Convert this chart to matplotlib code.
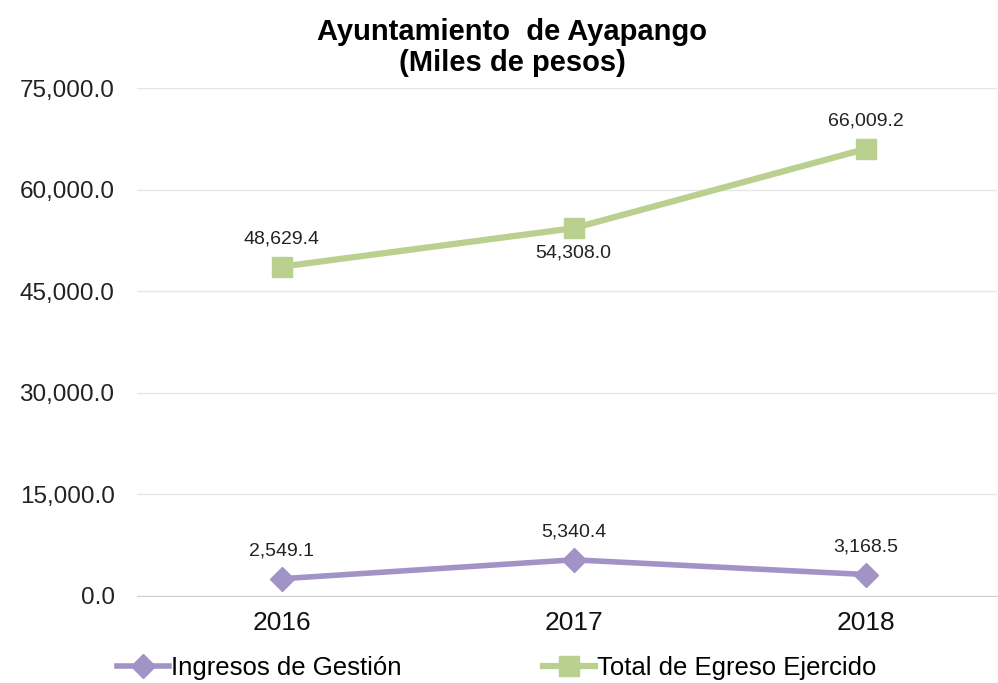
import matplotlib
matplotlib.use("Agg")
import matplotlib.pyplot as plt

years = ["2016", "2017", "2018"]
ingresos = [2549.1, 5340.4, 3168.5]
egreso = [48629.4, 54308.0, 66009.2]
yticks = [0, 15000, 30000, 45000, 60000, 75000]

plt.rcParams['font.family'] = ['Liberation Sans', 'DejaVu Sans']

fig = plt.figure(figsize=(9.98, 6.83), dpi=100)
ax = fig.add_axes([0.137, 0.1274, 0.862, 0.7437])

purple = '#A193C6'
green = '#B9D08F'
x = list(range(len(years)))
l1, = ax.plot(x, ingresos, color=purple, lw=4, marker='D', ms=12, label='Ingresos de Gestión')
l2, = ax.plot(x, egreso, color=green, lw=4.5, marker='s', ms=14, label='Total de Egreso Ejercido')

ax.set_xlim(-0.497, 2.45)
ax.set_ylim(0, 75000)
ax.set_yticks(yticks)
ax.set_yticklabels([f"{v:,.1f}" for v in yticks], fontsize=17.5, color='#222222')
ax.set_xticks(x)
ax.set_xticklabels(years, fontsize=19, color='#111111')
ax.tick_params(axis='both', length=0)
ax.tick_params(axis='y', pad=16)
ax.tick_params(axis='x', pad=11)
ax.grid(axis='y', color='#E6E6E6', lw=1)
ax.set_axisbelow(True)
for s in ['left', 'right', 'top']:
    ax.spines[s].set_visible(False)
ax.spines['bottom'].set_color('#D0D0D0')

for i, v in enumerate(ingresos):
    ax.annotate(f"{v:,.1f}", (i, v), xytext=(0, 14), textcoords='offset points',
                ha='center', va='bottom', fontsize=14, color='#222222')
offs = [14, -12, 14]
for i, v in enumerate(egreso):
    ax.annotate(f"{v:,.1f}", (i, v), xytext=(0, offs[i]), textcoords='offset points',
                ha='center', va='bottom' if offs[i] > 0 else 'top', fontsize=14, color='#222222')

fig.text(0.513, 0.974, "Ayuntamiento  de Ayapango\n(Miles de pesos)", ha='center', va='top',
         fontsize=21, fontweight='bold', linespacing=1.15)

fig.legend(handles=[l1, l2], loc='lower center', bbox_to_anchor=(0.498, -0.03), ncol=2,
           frameon=False, fontsize=18.5, columnspacing=5.5, handlelength=2.0, handletextpad=0.1)

fig.savefig("out.png", dpi=100)
